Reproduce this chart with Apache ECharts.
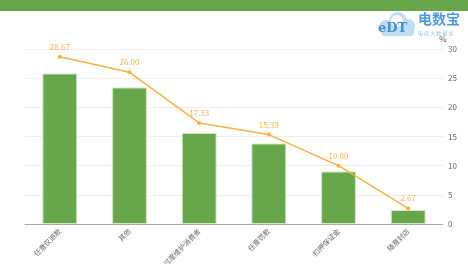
<!DOCTYPE html>
<html>
<head>
<meta charset="utf-8">
<script src="https://cdn.jsdelivr.net/npm/echarts@6/dist/echarts.min.js"></script>
<style>
  html, body { margin: 0; padding: 0; background: #fff; }
  #main { width: 468px; height: 264px; }
</style>
</head>
<body>
<div id="main"></div>
<script>
var categories = ['任意仅退款', '其他', '过度维护消费者', '任意罚款', '扣押保证金', '随意封店'];
var counts = [43, 39, 26, 23, 15, 4];
var percents = [28.67, 26.00, 17.33, 15.33, 10.00, 2.67];
var pctTicks = [0, 5, 10, 15, 20, 25, 30];

var myChart = echarts.init(document.getElementById('main'));
myChart.setOption({
  animation: false,
  textStyle: { fontFamily: '"Noto Sans CJK SC", "Open Sans", sans-serif' },
  graphic: [
    { type: 'rect', left: 0, top: 0, shape: { width: 468, height: 11 }, style: { fill: '#67a64b' } },
    // logo cloud
    { type: 'circle', shape: { cx: 398, cy: 21, r: 9 }, style: { fill: '#bfdcf3' } },
    { type: 'circle', shape: { cx: 386, cy: 27, r: 7 }, style: { fill: '#bfdcf3' } },
    { type: 'circle', shape: { cx: 408, cy: 26, r: 7 }, style: { fill: '#bfdcf3' } },
    { type: 'rect', shape: { x: 381, y: 26, width: 33, height: 10, r: 4 }, style: { fill: '#bfdcf3' } },
    { type: 'circle', shape: { cx: 397, cy: 21, r: 6 }, style: { fill: '#fff' } },
    { type: 'text', left: 378, top: 22, style: { text: 'eDT', fill: '#3b93d9', font: 'bold 13px "DejaVu Serif", serif' } },
    { type: 'text', left: 418, top: 12, style: { text: '电数宝', fill: '#4a9be0', font: 'bold 14px "Noto Sans CJK SC", sans-serif' } },
    { type: 'text', left: 418, top: 31, style: { text: '电 商 大 数 据 库', fill: '#8fc2ea', font: '5px "Noto Sans CJK SC", sans-serif' } }
  ],
  grid: { left: 25, right: 25, top: 49, bottom: 40, outerBoundsMode: 'none' },
  xAxis: {
    type: 'category',
    data: categories,
    axisTick: { show: false },
    axisLine: { lineStyle: { color: '#aaa' } },
    axisLabel: { rotate: 45, fontSize: 7, color: '#666', margin: 6, interval: 0 }
  },
  yAxis: [
    {
      type: 'value', position: 'right', name: '%', min: 0, max: 30, interval: 5,
      nameGap: 6,
      nameTextStyle: { color: '#555', fontSize: 8, align: 'center' },
      axisLine: { show: false }, axisTick: { show: false },
      axisLabel: { color: '#666', fontSize: 8, margin: 5 },
      splitLine: { lineStyle: { color: '#eee' } }
    },
    {
      type: 'value', position: 'left', min: 0, max: 50, show: false,
      splitLine: { show: false }
    }
  ],
  series: [
    {
      type: 'bar', yAxisIndex: 1, data: counts, barWidth: '50%',
      itemStyle: { color: '#67a64b', borderColor: '#d3e8c6', borderWidth: 1 }
    },
    {
      type: 'line', yAxisIndex: 0, data: percents,
      symbol: 'circle', symbolSize: 4,
      lineStyle: { color: '#fbb040', width: 1.5 },
      itemStyle: { color: '#fbb040' },
      label: {
        show: true, position: 'top', color: '#f8b552', fontSize: 8, distance: 4,
        formatter: function (p) { return p.value.toFixed(2); }
      }
    }
  ]
});
</script>
</body>
</html>
